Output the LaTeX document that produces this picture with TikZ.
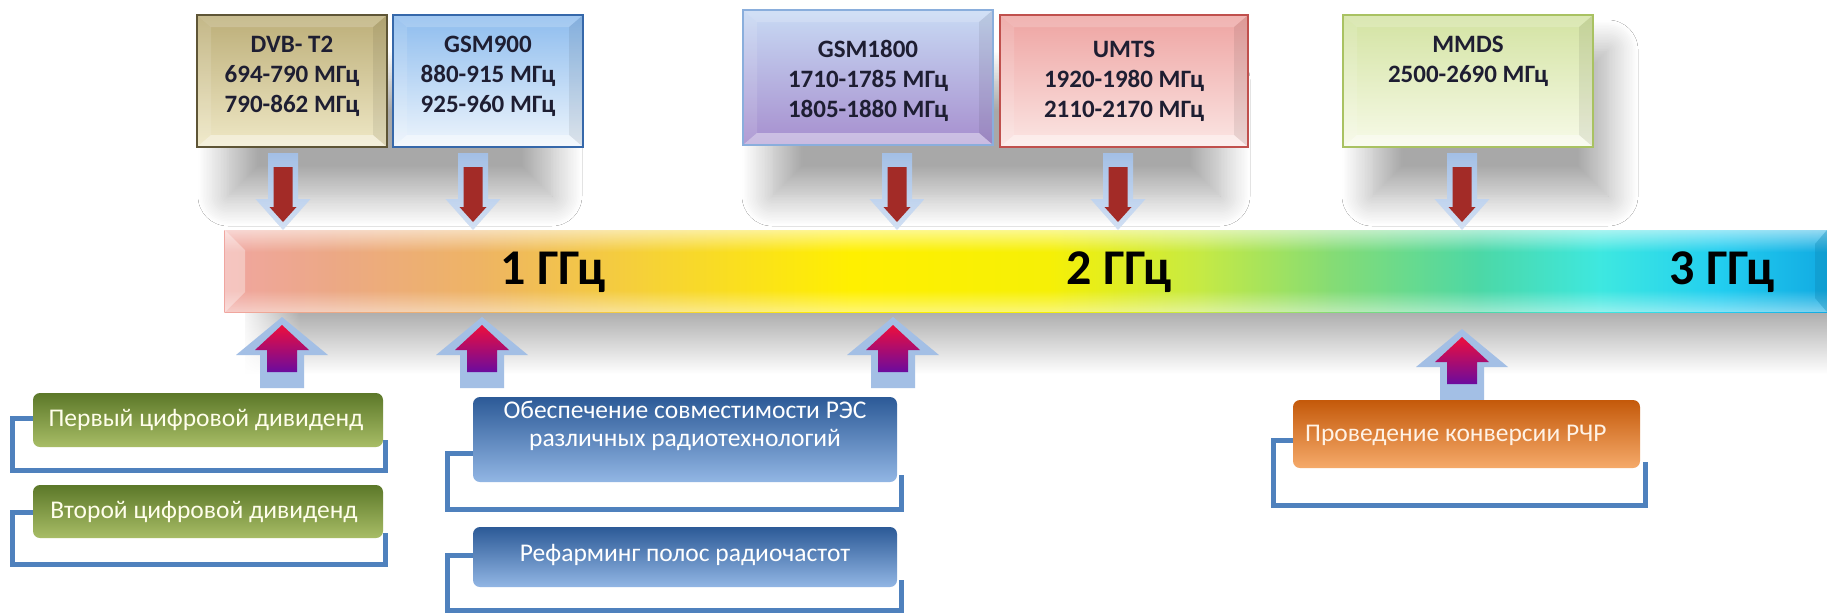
\documentclass[tikz,border=0pt]{standalone}
\usepackage{fontspec}
\setmainfont{Carlito}
\usetikzlibrary{shadows.blur,fadings}
\definecolor{arrowblue}{HTML}{A3BFE5}
\definecolor{arrowbluelt}{HTML}{D3E1F4}
\definecolor{darkred}{HTML}{A32B27}
\definecolor{upred}{HTML}{EE0E3C}
\definecolor{uppurple}{HTML}{6B0B9E}
\definecolor{bracketblue}{HTML}{4F81BD}
\definecolor{bA}{HTML}{F0A6A0}
\definecolor{bB}{HTML}{ECA886}
\definecolor{bC}{HTML}{EEB464}
\definecolor{bD}{HTML}{F6D236}
\definecolor{bE}{HTML}{FFF000}
\definecolor{bF}{HTML}{F6F006}
\definecolor{bG}{HTML}{C6EA44}
\definecolor{bH}{HTML}{86DC74}
\definecolor{bI}{HTML}{4CD8A6}
\definecolor{bJ}{HTML}{3EE8E0}
\definecolor{bK}{HTML}{22CEF0}
\definecolor{bL}{HTML}{12AAE2}
\definecolor{dvbborder}{HTML}{5E5536}
\definecolor{dvbtop}{HTML}{BCAE78}
\definecolor{dvbbot}{HTML}{EFE8C6}
\definecolor{gnineborder}{HTML}{3668AA}
\definecolor{gninetop}{HTML}{8DBCEE}
\definecolor{gninebot}{HTML}{EEF5FC}
\definecolor{geightborder}{HTML}{8AAEDC}
\definecolor{geighttop}{HTML}{C8DAF4}
\definecolor{geightbot}{HTML}{A68ECE}
\definecolor{umtsborder}{HTML}{C0504D}
\definecolor{umtstop}{HTML}{EEA4A2}
\definecolor{umtsbot}{HTML}{FBE6E4}
\definecolor{mmdsborder}{HTML}{A9C262}
\definecolor{mmdstop}{HTML}{D3E3A2}
\definecolor{mmdsbot}{HTML}{F7FAE8}
\definecolor{greenT}{HTML}{5C7829}
\definecolor{greenB}{HTML}{A8BD66}
\definecolor{blueT}{HTML}{2C5A97}
\definecolor{blueB}{HTML}{92B6E4}
\definecolor{orangeT}{HTML}{C4590A}
\definecolor{orangeB}{HTML}{F5AA6A}
\definecolor{toptextcol}{HTML}{1E1E32}
\begin{document}
\begin{tikzpicture}[x=1pt,y=-1pt,
  softshadow/.style={blur shadow={shadow xshift=0pt, shadow yshift=0pt, shadow blur radius=30pt, shadow opacity=34, shadow blur steps=20}},
  topbox/.style n args={3}{draw=#1, line width=2.5pt, top color=#2, bottom color=#3,
    inner sep=0pt, outer sep=0pt,
    path picture={
      \fill[white,opacity=.18] (path picture bounding box.north west) -- (path picture bounding box.north east)
        -- ([shift={(-14pt,-12pt)}]path picture bounding box.north east) -- ([shift={(14pt,-12pt)}]path picture bounding box.north west) -- cycle;
      \fill[white,opacity=.12] (path picture bounding box.north west) -- ([shift={(14pt,-12pt)}]path picture bounding box.north west)
        -- ([shift={(14pt,12pt)}]path picture bounding box.south west) -- (path picture bounding box.south west) -- cycle;
      \fill[black,opacity=.07] (path picture bounding box.north east) -- ([shift={(-14pt,-12pt)}]path picture bounding box.north east)
        -- ([shift={(-14pt,12pt)}]path picture bounding box.south east) -- (path picture bounding box.south east) -- cycle;
      \fill[white,opacity=.4] (path picture bounding box.south west) -- (path picture bounding box.south east)
        -- ([shift={(-14pt,12pt)}]path picture bounding box.south east) -- ([shift={(14pt,12pt)}]path picture bounding box.south west) -- cycle;
    }},
  toptext/.style={align=center, text=toptextcol, font=\fontsize{25}{30}\selectfont\bfseries, inner sep=0pt},
  bandlabel/.style={text=black, font=\fontsize{50}{54}\selectfont\bfseries, inner sep=0pt},
  botbox/.style 2 args={rounded corners=7pt, top color=#1, bottom color=#2, inner sep=0pt, outer sep=0pt},
  bottext/.style={align=center, font=\fontsize{25.5}{28}\selectfont, inner sep=0pt},
  bracket/.style={draw=bracketblue, line width=5pt, line join=miter},
  downarr/.pic={
    \shade[top color=arrowblue, bottom color=arrowbluelt] (-15,153) -- (15,153) -- (15,199) -- (27.5,199) -- (0,230) -- (-27.5,199) -- (-15,199) -- cycle;
    \fill[darkred] (-9.5,167) -- (9.5,167) -- (9.5,207) -- (13.5,207) -- (0,222) -- (-13.5,207) -- (-9.5,207) -- cycle;
  },
  uparr/.pic={
    \fill[arrowblue] (0,317) -- (46,355) -- (22,355) -- (22,388) -- (-22,388) -- (-22,355) -- (-46,355) -- cycle;
    \shade[top color=upred, bottom color=uppurple] (0,325) -- (27,350) -- (15,350) -- (15,372) -- (-15,372) -- (-15,350) -- (-27,350) -- cycle;
  }
]
\useasboundingbox[fill=white] (0,0) rectangle (1827,614);

% shadow under the band
\shade[top color=black!32, bottom color=white] (245,312) rectangle (1827,374);
\fill[white,path fading=east] (238,310) rectangle (300,378);

% soft shadows under the top boxes
\path[softshadow] (228,80) rectangle (552,196);
\path[softshadow] (772,80) rectangle (1220,196);
\path[softshadow] (1372,50) rectangle (1608,196);

% top boxes
\node[topbox={dvbborder}{dvbtop}{dvbbot}, minimum width=190pt, minimum height=132pt] (dvb) at (292,81) {};
\node[topbox={gnineborder}{gninetop}{gninebot}, minimum width=190pt, minimum height=132pt] (gsm9) at (488,81) {};
\node[topbox={geightborder}{geighttop}{geightbot}, minimum width=250pt, minimum height=135pt] (gsm18) at (868,77.5) {};
\node[topbox={umtsborder}{umtstop}{umtsbot}, minimum width=248pt, minimum height=132pt] (umts) at (1124,81) {};
\node[topbox={mmdsborder}{mmdstop}{mmdsbot}, minimum width=250pt, minimum height=132pt] (mmds) at (1468,81) {};

\node[toptext] (dvb-t) at (292,76) {DVB- T2\\694-790 МГц\\790-862 МГц};
\node[toptext] (gsm9-t) at (488,76) {GSM900\\880-915 МГц\\925-960 МГц};
\node[toptext] (gsm18-t) at (868,81) {GSM1800\\1710-1785 МГц\\1805-1880 МГц};
\node[toptext] (umts-t) at (1124,81) {UMTS\\1920-1980 МГц\\2110-2170 МГц};
\node[toptext] (mmds-t) at (1468,61) {MMDS\\2500-2690 МГц};

% band
\foreach \xa/\xb/\ca/\cb in {225/330/bA/bB, 330/480/bB/bC, 480/650/bC/bD, 650/850/bD/bE, 850/1050/bE/bF, 1050/1200/bF/bG, 1200/1330/bG/bH, 1330/1480/bH/bI, 1480/1600/bI/bJ, 1600/1720/bJ/bK, 1720/1827/bK/bL}
  \shade[left color=\ca, right color=\cb] (\xa-0.6,230) rectangle (\xb+0.6,312);
\fill[white,opacity=.55,path fading=south] (225,230) rectangle (1827,252);
\fill[white,opacity=.45,path fading=north] (225,290) rectangle (1827,312);
\fill[white,opacity=.35] (225,230) -- (245,250) -- (245,292) -- (225,312) -- cycle;
\fill[bL!80!black,opacity=.35] (1827,230) -- (1815,244) -- (1815,298) -- (1827,312) -- cycle;
\node[inner sep=0pt, minimum width=1602pt, minimum height=82pt] (band) at (1026,271) {};

\node[bandlabel] (f1) at (553,272) {1 ГГц};
\node[bandlabel] (f2) at (1119,272) {2 ГГц};
\node[bandlabel] (f3) at (1722,272) {3 ГГц};

% arrows from the top boxes
\pic (da1) at (283,0) {downarr};
\pic (da2) at (473,0) {downarr};
\pic (da3) at (897,0) {downarr};
\pic (da4) at (1118,0) {downarr};
\pic (da5) at (1462,0) {downarr};

% arrows to the band from below
\pic (ua1) at (282,0) {uparr};
\pic (ua2) at (482,0) {uparr};
\pic (ua3) at (893,0) {uparr};
\pic (ua4) at (1462,12) {uparr};

% brackets
\draw[bracket] (35,418) -- (12.5,418) -- (12.5,470.5) -- (385.5,470.5) -- (385.5,440);
\draw[bracket] (35,512) -- (12.5,512) -- (12.5,564.5) -- (385.5,564.5) -- (385.5,533);
\draw[bracket] (475,453.5) -- (447,453.5) -- (447,509) -- (901,509) -- (901,475);
\draw[bracket] (475,555) -- (447,555) -- (447,610) -- (901,610) -- (901,580);
\draw[bracket] (1295,440) -- (1273,440) -- (1273,505) -- (1645,505) -- (1645,462);

% bottom boxes
\node[botbox={greenT}{greenB}, minimum width=350pt, minimum height=54pt] (g1) at (208,420) {};
\node[bottext, text=white!92!yellow] (g1-t) at (206,420) {Первый цифровой дивиденд};
\node[botbox={greenT}{greenB}, minimum width=350pt, minimum height=53pt] (g2) at (208,511.5) {};
\node[bottext, text=white!92!yellow] (g2-t) at (204,512) {Второй цифровой дивиденд};
\node[botbox={blueT}{blueB}, minimum width=424pt, minimum height=85pt] (b1) at (685,439.5) {};
\node[bottext, text=white] (b1-t) at (685,426) {Обеспечение совместимости РЭС\\различных радиотехнологий};
\node[botbox={blueT}{blueB}, minimum width=424pt, minimum height=60pt] (b2) at (685,557) {};
\node[bottext, text=white] (b2-t) at (685,555) {Рефарминг полос радиочастот};
\node[botbox={orangeT}{orangeB}, minimum width=347pt, minimum height=68pt] (o1) at (1466.5,434) {};
\node[bottext, text=white!90!orange, anchor=west] (o1-t) at (1305,435) {Проведение конверсии РЧР};
\end{tikzpicture}
\end{document}
